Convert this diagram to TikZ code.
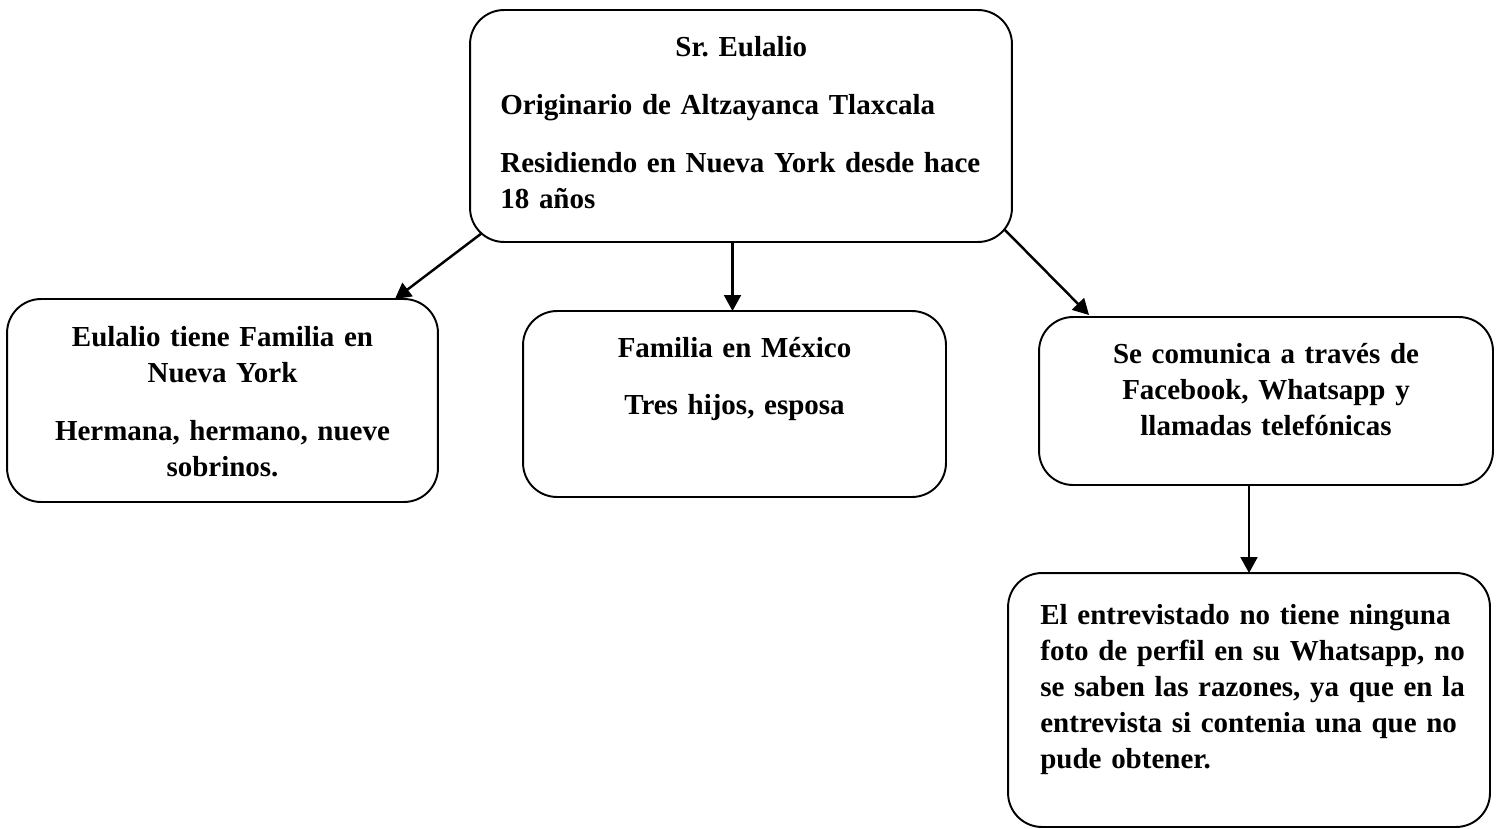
\documentclass[tikz,border=0pt]{standalone}
\usepackage{fontspec}
\setmainfont{Liberation Serif}
\frenchspacing
\usetikzlibrary{calc,arrows.meta}
\tikzset{
	caja/.style={draw, line width=1.1pt, rounded corners=0.68cm, inner sep=0pt, outer sep=0pt},
	texto/.style={inner sep=0pt, font=\bfseries\fontsize{16.5}{20.5}\selectfont},
	flecha/.style={line width=1.4pt, -{Triangle[length=9pt,width=9.5pt]}}
}

\begin{document}
\begin{tikzpicture}[x=0.02cm, y=-0.02cm]
			%%%%% START %%%%%
			
			\useasboundingbox (0,0) rectangle (1496,828);
			
			\node[caja, minimum width=10.84cm, minimum height=4.64cm] (jefe) at (741,126) {};
			\node[caja, minimum width=8.62cm, minimum height=4.06cm] (nyc) at (222.5,400.5) {};
			\node[caja, minimum width=8.46cm, minimum height=3.72cm] (mex) at (734.5,404) {};
			\node[caja, minimum width=9.08cm, minimum height=3.36cm] (com) at (1266,401) {};
			\node[caja, minimum width=9.64cm, minimum height=5.08cm] (foto) at (1249,700) {};
			
			\node[texto, text width=9.64cm, align=left, anchor=base west] (jefetxt) at (500,57) {\makebox[9.64cm]{Sr. Eulalio}\\[12.5pt] Originario de Altzayanca Tlaxcala\\[12.5pt] Residiendo en Nueva York desde hace\\ 18 años};
			\node[texto, text width=7.6cm, align=center, anchor=base] (nyctxt) at (222.5,346) {Eulalio tiene Familia en\\ Nueva York\\[12.5pt] Hermana, hermano, nueve\\ sobrinos.};
			\node[texto, text width=7.6cm, align=center, anchor=base] (mextxt) at (734.5,357) {Familia en México\\[12.5pt] Tres hijos, esposa};
			\node[texto, text width=8cm, align=center, anchor=base] (comtxt) at (1266,363) {Se comunica a través de\\ Facebook, Whatsapp y\\ llamadas telefónicas};
			\node[texto, text width=8.9cm, align=left, anchor=base west] (fototxt) at (1040,624) {El entrevistado no tiene ninguna\\ foto de perfil en su Whatsapp, no\\ se saben las razones, ya que en la\\ entrevista si contenia una que no\\ pude obtener.};
			
			\draw[flecha] ($(jefe.south west)+(12,-9)$) -- ($(nyc.north east)+(-43,0)$);
			\draw[flecha] ($(jefe.south -| mex.north)+(-2,0)$) -- ($(mex.north)+(-2,0)$);
			\draw[flecha] ($(jefe.south east)+(-8,-13)$) -- ($(com.north west)+(50,-2)$);
			\draw[flecha] (com.south -| foto.north) -- (foto.north);
			
			%%%%% END %%%%%
\end{tikzpicture}
\end{document}
